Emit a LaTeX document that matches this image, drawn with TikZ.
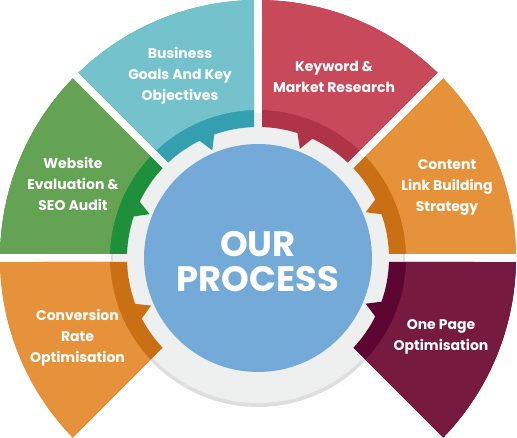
\documentclass[tikz,border=0pt]{standalone}
\usepackage{fontspec}
\setmainfont{Poppins}
\usepackage{tikz}
\definecolor{ProcBlue}{RGB}{116,170,215}
\definecolor{ProcRing}{RGB}{238,240,240}
\definecolor{ProcTeal}{RGB}{115,194,204}
\definecolor{ProcTealDark}{RGB}{52,159,174}
\definecolor{ProcRed}{RGB}{200,74,90}
\definecolor{ProcRedDark}{RGB}{176,52,72}
\definecolor{ProcOrange}{RGB}{230,146,58}
\definecolor{ProcOrangeDark}{RGB}{201,112,20}
\definecolor{ProcWine}{RGB}{118,26,64}
\definecolor{ProcWineDark}{RGB}{92,5,48}
\definecolor{ProcGreen}{RGB}{100,163,84}
\definecolor{ProcGreenDark}{RGB}{30,143,58}

\begin{document}
\begin{tikzpicture}[x=0.75pt,y=0.75pt,
  lbl/.style={text=white,align=center,font=\bfseries\fontsize{10.5}{15.75}\selectfont},
  hub/.style={text=white,align=center,font=\bfseries\fontsize{26.5}{26.25}\selectfont}]
\useasboundingbox (0,0) rectangle (517,438);
\begin{scope}[shift={(258,180)}]
\fill[black!13] (0,-2) circle (147);
\fill[ProcRing] (0,0) circle (145);
\foreach \a/\b/\m/\c/\d in %
{45/90/69/ProcRed/ProcRedDark, 90/135/113/ProcTeal/ProcTealDark,
 135/180/158/ProcGreen/ProcGreenDark, 180/225/204/ProcOrange/ProcOrangeDark,
 0/45/23/ProcOrange/ProcOrangeDark, 315/360/337/ProcWine/ProcWineDark} {
   \fill[\d] (\a+0.89:258) arc[start angle=\a+0.89,end angle=\b-0.89,radius=258]
      -- (\b-1.75:131) arc[start angle=\b-1.75,end angle=\m+3.5,radius=131]
      -- (\m:117) -- (\m-3.5:131) arc[start angle=\m-3.5,end angle=\a+1.75,radius=131] -- cycle;
   \fill[\c] (\a+0.89:258) arc[start angle=\a+0.89,end angle=\b-0.89,radius=258]
      -- (\b-1.55:148) arc[start angle=\b-1.55,end angle=\a+1.55,radius=148] -- cycle;
}
\fill[ProcBlue] (0,0) circle (114);
\end{scope}
\node[hub] (hub) at (258,176) {OUR\\PROCESS};
\node[lbl] (business) at (180,362.5) {Business\\Goals And Key\\Objectives};
\node[lbl] (keyword) at (334,361.5) {Keyword \&\\Market Research};
\node[lbl] (content) at (447,251) {Content\\Link Building\\Strategy};
\node[lbl] (website) at (73,254) {Website\\Evaluation \&\\SEO Audit};
\node[lbl] (conversion) at (77.5,100) {Conversion\\Rate\\Optimisation};
\node[lbl] (onepage) at (441,101.5) {One Page\\Optimisation};
\end{tikzpicture}
\end{document}
